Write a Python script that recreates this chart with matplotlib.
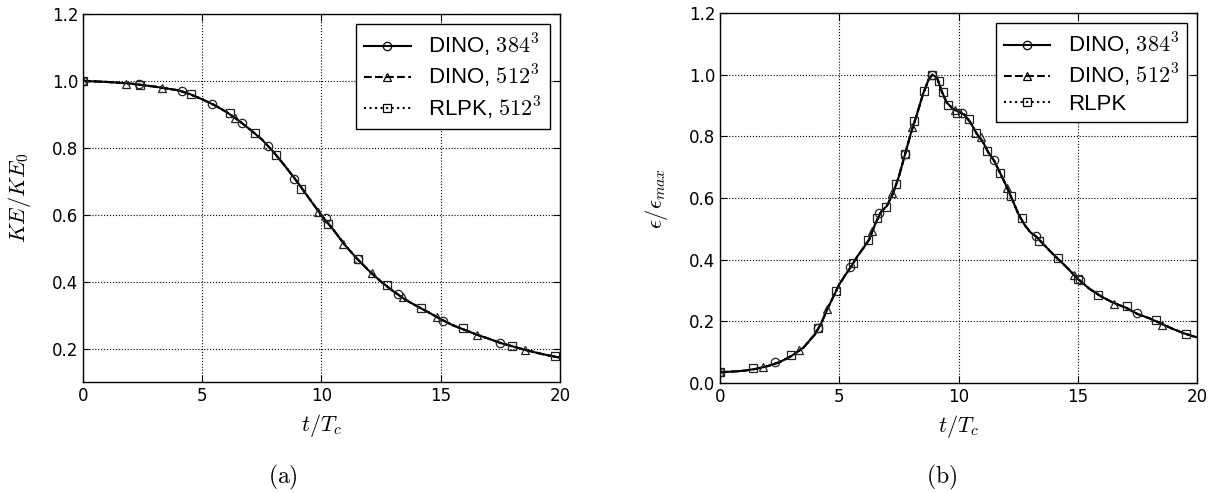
import matplotlib
matplotlib.use('Agg')
import matplotlib.pyplot as plt
from matplotlib.lines import Line2D

plt.rcParams['mathtext.fontset'] = 'cm'
plt.rcParams['font.family'] = 'DejaVu Sans'

# (a) kinetic energy decay, KE/KE0 vs t/Tc
ke_t = [0, 1, 2, 3, 4, 4.5, 5, 5.5, 6, 6.5, 7, 7.5, 8, 8.5, 9, 9.5, 10, 10.5, 11, 11.5,
        12, 12.5, 13, 13.5, 14, 14.5, 15, 15.5, 16, 16.5, 17, 17.5, 18, 18.5, 19, 19.5, 20]
ke_line = [1.0, 0.997, 0.992, 0.983, 0.972, 0.96, 0.945, 0.928, 0.908, 0.883, 0.855, 0.825,
           0.787, 0.743, 0.697, 0.647, 0.598, 0.555, 0.508, 0.468, 0.432, 0.4, 0.372, 0.347,
           0.327, 0.308, 0.288, 0.27, 0.256, 0.242, 0.23, 0.217, 0.207, 0.197, 0.188, 0.18, 0.173]

ke_384_t = [0, 2.35, 4.14, 5.42, 6.68, 7.77, 8.85, 10.2, 11.54, 13.2, 15.1, 17.48]
ke_384_y = [1.0, 0.99, 0.970, 0.932, 0.873, 0.805, 0.706, 0.59, 0.467, 0.363, 0.284, 0.216]
ke_512_t = [0, 1.8, 3.33, 6.37, 9.84, 10.92, 12.1, 13.4, 14.86, 16.53, 18.53]
ke_512_y = [1.0, 0.992, 0.980, 0.888, 0.608, 0.512, 0.425, 0.355, 0.293, 0.241, 0.197]
ke_rlpk_t = [0, 2.39, 4.51, 6.16, 7.21, 8.09, 9.14, 10.26, 11.54, 12.73, 14.17, 15.95, 17.99, 19.79]
ke_rlpk_y = [1.0, 0.989, 0.961, 0.903, 0.843, 0.778, 0.677, 0.572, 0.467, 0.39, 0.322, 0.261, 0.208, 0.177]

# (b) dissipation rate, eps/eps_max vs t/Tc
eps_t = [0, 0.5, 1, 1.5, 2, 2.5, 3, 3.5, 4, 4.25, 4.5, 4.75, 5, 5.25, 5.5, 5.75, 6, 6.25,
         6.5, 6.75, 7, 7.25, 7.5, 7.75, 8, 8.25, 8.5, 8.75, 8.9, 9.1, 9.3, 9.5, 9.75, 10,
         10.25, 10.5, 10.75, 11, 11.25, 11.5, 11.75, 12, 12.25, 12.5, 12.75, 13, 13.25, 13.5,
         14, 14.5, 15, 15.5, 16, 16.5, 17, 17.5, 18, 18.5, 19, 19.5, 20]
eps_line = [0.035, 0.037, 0.040, 0.046, 0.055, 0.068, 0.088, 0.115, 0.16, 0.195, 0.24, 0.28,
            0.32, 0.35, 0.378, 0.41, 0.437, 0.465, 0.515, 0.555, 0.575, 0.615, 0.67, 0.74,
            0.81, 0.87, 0.935, 0.985, 1.0, 0.99, 0.945, 0.91, 0.89, 0.88, 0.87, 0.845, 0.81,
            0.785, 0.748, 0.72, 0.68, 0.64, 0.595, 0.55, 0.515, 0.49, 0.475, 0.455, 0.415,
            0.378, 0.338, 0.305, 0.28, 0.26, 0.245, 0.224, 0.21, 0.193, 0.175, 0.16, 0.148]

eps_384_t = [0, 2.31, 4.12, 5.45, 6.68, 7.76, 8.9, 10.13, 11.49, 13.25, 15.09, 17.47]
eps_384_y = [0.035, 0.067, 0.18, 0.377, 0.552, 0.742, 1.0, 0.876, 0.723, 0.477, 0.334, 0.226]
eps_512_t = [0, 1.79, 3.31, 4.5, 6.39, 7.22, 8.06, 9.85, 10.93, 12.05, 14.84, 16.52, 18.52]
eps_512_y = [0.035, 0.053, 0.107, 0.24, 0.494, 0.617, 0.829, 0.885, 0.798, 0.633, 0.35, 0.258, 0.188]
eps_rlpk_t = [0, 1.37, 2.98, 4.12, 4.85, 5.56, 6.22, 6.57, 6.96, 7.37, 7.76, 8.15, 8.55, 8.9,
              9.18, 9.33, 9.57, 9.95, 10.44, 10.73, 11.21, 11.74, 12.2, 12.65, 13.38, 14.18,
              15.0, 15.84, 17.06, 18.28, 19.54]
eps_rlpk_y = [0.035, 0.048, 0.091, 0.18, 0.299, 0.388, 0.463, 0.534, 0.571, 0.647, 0.742, 0.850,
              0.947, 1.0, 0.98, 0.943, 0.903, 0.876, 0.855, 0.811, 0.753, 0.682, 0.606, 0.534,
              0.46, 0.404, 0.336, 0.287, 0.25, 0.204, 0.159]


def draw_panel(ax, t, line, s384, s512, srlpk, labels, ylim):
    # the three runs lie on top of each other, solid drawn last
    ax.plot(t, line, ':', color='k', lw=1.5)
    ax.plot(t, line, '--', color='k', lw=1.5)
    ax.plot(t, line, '-', color='k', lw=1.5)
    mk = dict(ls='none', mfc='none', mec='#222222', ms=6, mew=0.9)
    ax.plot(s384[0], s384[1], marker='o', **mk)
    ax.plot(s512[0], s512[1], marker='^', **mk)
    ax.plot(srlpk[0], srlpk[1], marker='s', **mk)

    handles = [
        Line2D([], [], color='k', lw=1.5, ls='-', marker='o', mfc='none', mec='k', ms=6, mew=0.9),
        Line2D([], [], color='k', lw=1.5, ls='--', marker='^', mfc='none', mec='k', ms=6, mew=0.9),
        Line2D([], [], color='k', lw=1.5, ls=':', marker='s', mfc='none', mec='k', ms=6, mew=0.9),
    ]
    leg = ax.legend(handles, labels, loc='upper right', numpoints=1, fancybox=False,
                    framealpha=1, edgecolor='k', handlelength=2.1, labelspacing=0.2,
                    borderpad=0.35, borderaxespad=0.45,
                    prop={'family': 'Liberation Sans', 'size': 16})
    leg.get_frame().set_linewidth(1.0)

    ax.set_xlim(0, 20)
    ax.set_ylim(*ylim)
    ax.set_xticks([0, 5, 10, 15, 20])
    ax.grid(True, ls=':', color='k', lw=0.8)
    ax.tick_params(direction='in', top=True, right=True, length=5, labelsize=12)
    for s in ax.spines.values():
        s.set_linewidth(1.0)
    ax.set_xlabel(r'$t/T_c$', fontsize=16)
    ax.xaxis.set_label_coords(0.5, -0.08)


fig = plt.figure(figsize=(12.21, 4.93), dpi=100)
ax1 = fig.add_axes([0.068, 0.225, 0.3906, 0.7466])
ax2 = fig.add_axes([0.5897, 0.223, 0.3907, 0.7506])

draw_panel(ax1, ke_t, ke_line, (ke_384_t, ke_384_y), (ke_512_t, ke_512_y),
           (ke_rlpk_t, ke_rlpk_y),
           ['DINO, $384^3$', 'DINO, $512^3$', 'RLPK, $512^3$'], (0.1, 1.2))
ax1.set_yticks([0.2, 0.4, 0.6, 0.8, 1.0, 1.2])
ax1.set_ylabel(r'$KE/KE_0$', fontsize=16)
ax1.yaxis.set_label_coords(-0.105, 0.5)

draw_panel(ax2, eps_t, eps_line, (eps_384_t, eps_384_y), (eps_512_t, eps_512_y),
           (eps_rlpk_t, eps_rlpk_y),
           ['DINO, $384^3$', 'DINO, $512^3$', 'RLPK'], (0.0, 1.2))
ax2.set_yticks([0.0, 0.2, 0.4, 0.6, 0.8, 1.0, 1.2])
ax2.set_ylabel(r'$\epsilon/\epsilon_{max}$', fontsize=16)
ax2.yaxis.set_label_coords(-0.105, 0.5)

fig.text(283 / 1221, 1 - 477 / 493, r'$\mathrm{(a)}$', fontsize=17, ha='center', va='center')
fig.text(942 / 1221, 1 - 477 / 493, r'$\mathrm{(b)}$', fontsize=17, ha='center', va='center')

fig.savefig('out.png', dpi=100)
